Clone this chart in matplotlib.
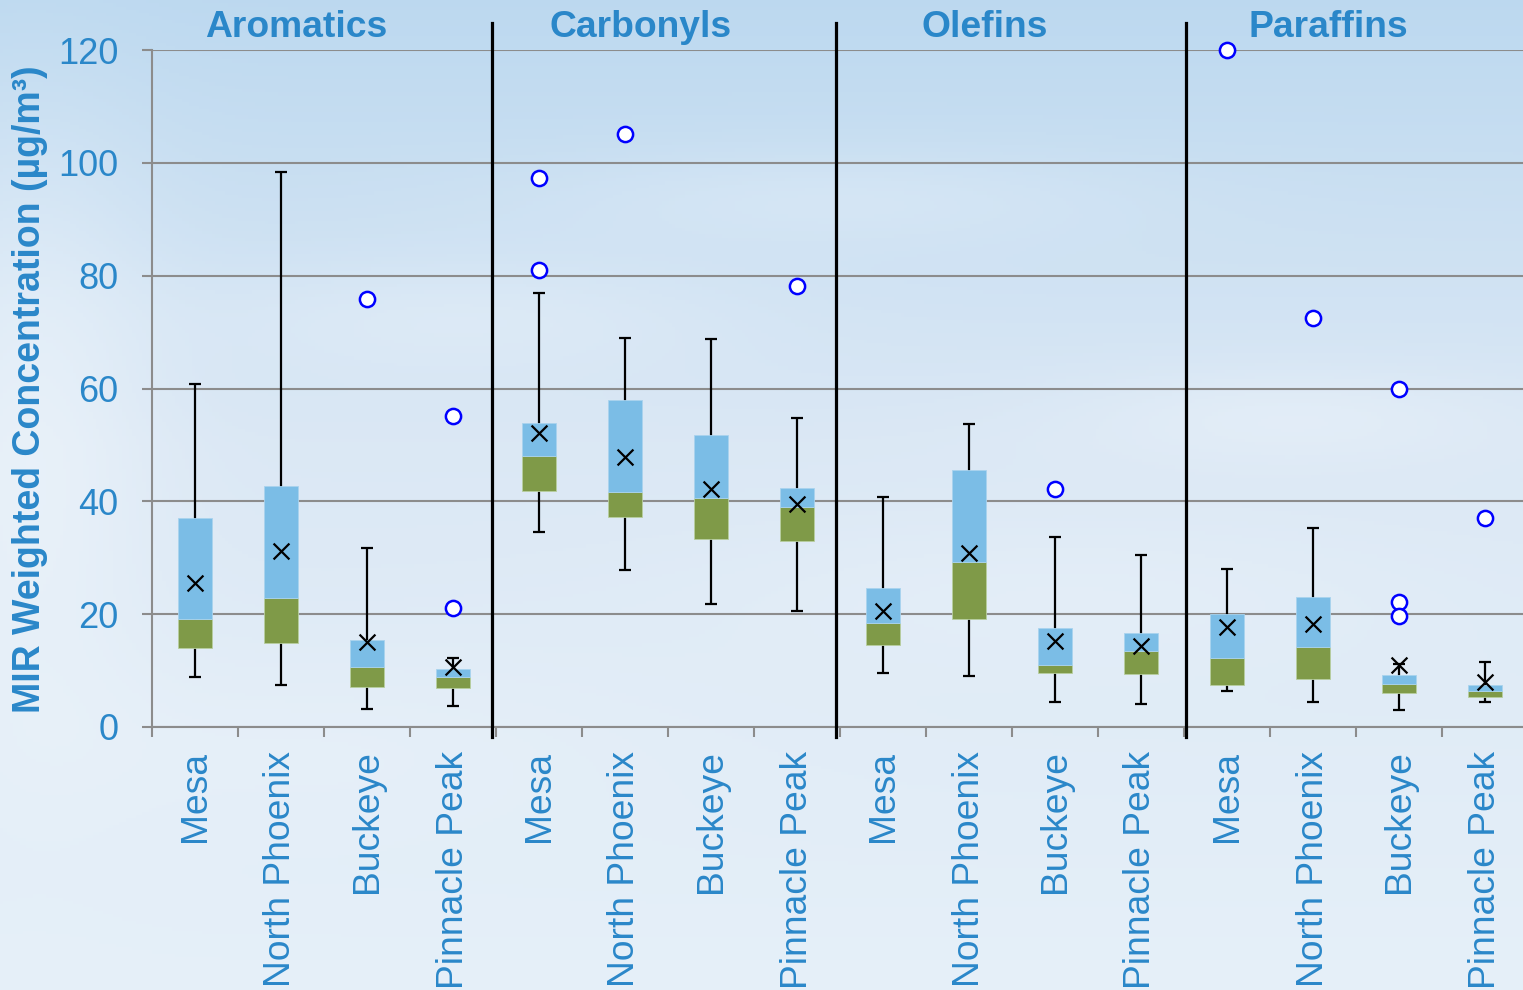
import numpy as np
import matplotlib
matplotlib.use("Agg")
import matplotlib.pyplot as plt
from matplotlib.transforms import blended_transform_factory

plt.rcParams["font.family"] = ["Liberation Sans", "DejaVu Sans"]

# ---- data -------------------------------------------------------------
groups = ["Aromatics", "Carbonyls", "Olefins", "Paraffins"]
sites = ["Mesa", "North Phoenix", "Buckeye", "Pinnacle Peak"]

# order inside each list: Mesa, North Phoenix, Buckeye, Pinnacle Peak
aromatics_whislo = [8.9, 7.4, 3.2, 3.7]
aromatics_q1 = [14.0, 14.9, 7.1, 6.9]
aromatics_med = [19.1, 22.9, 10.7, 8.9]
aromatics_q3 = [37.1, 42.8, 15.4, 10.3]
aromatics_whishi = [60.8, 98.4, 31.8, 12.2]
aromatics_mean = [25.6, 31.2, 15.1, 10.7]
aromatics_fliers = [[], [], [75.9], [55.1, 21.1]]

carbonyls_whislo = [34.6, 27.8, 21.8, 20.6]
carbonyls_q1 = [41.9, 37.2, 33.3, 32.9]
carbonyls_med = [48.0, 41.7, 40.6, 39.0]
carbonyls_q3 = [53.9, 57.9, 51.8, 42.3]
carbonyls_whishi = [76.9, 68.9, 68.8, 54.8]
carbonyls_mean = [52.2, 47.9, 42.2, 39.5]
carbonyls_fliers = [[97.3, 81.0], [105.1], [], [78.2]]

olefins_whislo = [9.6, 9.0, 4.4, 4.0]
olefins_q1 = [14.6, 19.1, 9.5, 9.4]
olefins_med = [18.5, 29.2, 11.0, 13.5]
olefins_q3 = [24.6, 45.6, 17.5, 16.7]
olefins_whishi = [40.7, 53.7, 33.7, 30.4]
olefins_mean = [20.6, 30.8, 15.3, 14.4]
olefins_fliers = [[], [], [42.1], []]

paraffins_whislo = [6.3, 4.4, 3.1, 4.4]
paraffins_q1 = [7.5, 8.5, 6.1, 5.4]
paraffins_med = [12.2, 14.2, 7.7, 6.4]
paraffins_q3 = [20.0, 23.1, 9.3, 7.4]
paraffins_whishi = [28.0, 35.3, 11.1, 11.6]
paraffins_mean = [17.7, 18.3, 11.0, 7.9]
paraffins_fliers = [[120.0], [72.5], [59.9, 22.1, 19.6], [37.0]]

y_ticks = [0, 20, 40, 60, 80, 100, 120]

# ---- assemble ---------------------------------------------------------
whislo = aromatics_whislo + carbonyls_whislo + olefins_whislo + paraffins_whislo
q1 = aromatics_q1 + carbonyls_q1 + olefins_q1 + paraffins_q1
med = aromatics_med + carbonyls_med + olefins_med + paraffins_med
q3 = aromatics_q3 + carbonyls_q3 + olefins_q3 + paraffins_q3
whishi = aromatics_whishi + carbonyls_whishi + olefins_whishi + paraffins_whishi
means = aromatics_mean + carbonyls_mean + olefins_mean + paraffins_mean
fliers = aromatics_fliers + carbonyls_fliers + olefins_fliers + paraffins_fliers
labels = sites * len(groups)
x = np.arange(len(labels))

TEXT_BLUE = "#2A87C9"
BOX_BLUE = "#7BBDE6"
BOX_GREEN = "#7F9A48"
GRID = "#8C8C8C"

W, H = 1523, 990
fig = plt.figure(figsize=(W / 100, H / 100), dpi=100)

# sky backdrop
bg = fig.add_axes([0, 0, 1, 1], zorder=-10)
bg.set_axis_off()
yy, xx = np.mgrid[0:1:300j, 0:1:460j]
top = np.array([0.74, 0.85, 0.94])
mid = np.array([0.86, 0.91, 0.96])
bot = np.array([0.90, 0.94, 0.975])
t = yy[..., None]
sky = np.where(t < 0.45, top + (mid - top) * (t / 0.45),
               mid + (bot - mid) * ((t - 0.45) / 0.55))
clouds = [  # (cx, cy, sx, sy, strength) in figure fractions, y from top
    (0.02, 0.45, 0.08, 0.30, 0.55),
    (0.30, 0.32, 0.18, 0.06, 0.30),
    (0.55, 0.20, 0.20, 0.05, 0.25),
    (0.85, 0.42, 0.15, 0.05, 0.35),
    (0.70, 0.60, 0.25, 0.08, 0.25),
    (0.20, 0.75, 0.25, 0.10, 0.25),
]
cover = np.zeros_like(xx)
for cx, cy, sx, sy, s in clouds:
    cover += s * np.exp(-(((xx - cx) / sx) ** 2 + ((yy - cy) / sy) ** 2))
cover = np.clip(cover, 0, 0.7)[..., None]
sky = sky + (np.array([0.95, 0.97, 0.99]) - sky) * cover
bg.imshow(sky, extent=[0, 1, 0, 1], aspect="auto", origin="upper")
bg.set_xlim(0, 1)
bg.set_ylim(0, 1)

# main axes
left_px, right_px, bottom_px, top_px = 152, 1528, 727, 50
ax = fig.add_axes([left_px / W, 1 - bottom_px / H,
                   (right_px - left_px) / W, (bottom_px - top_px) / H])
ax.set_facecolor("none")
ax.set_xlim(-0.5, len(labels) - 0.5)
ax.set_ylim(0, 120)

ax.set_yticks(y_ticks)
ax.yaxis.grid(True, color=GRID, linewidth=1.5)
ax.set_axisbelow(True)
for side in ("top", "right"):
    ax.spines[side].set_visible(False)
for side in ("left", "bottom"):
    ax.spines[side].set_color(GRID)
    ax.spines[side].set_linewidth(1.5)
ax.tick_params(axis="y", colors=GRID, width=1.5, length=7.2, pad=17,
               labelcolor=TEXT_BLUE, labelsize=26)

ax.set_xticks(x)
ax.set_xticklabels(labels, rotation=90, color=TEXT_BLUE, fontsize=26.8,
                   va="top", ha="center")
ax.set_xticks(np.arange(len(labels) + 1) - 0.5, minor=True)
ax.tick_params(axis="x", which="major", length=0, pad=17)
ax.tick_params(axis="x", which="minor", length=7.2, width=1.5, colors=GRID)

# whiskers
bw = 0.4
ax.vlines(x, whislo, whishi, color="black", linewidth=1.6, zorder=3)
ax.hlines(whislo, x - 0.07, x + 0.07, color="black", linewidth=1.6, zorder=3)
ax.hlines(whishi, x - 0.07, x + 0.07, color="black", linewidth=1.6, zorder=3)

# two-tone boxes: Q1 -> median in green, median -> Q3 in blue
q1a, meda, q3a = np.array(q1), np.array(med), np.array(q3)
ax.bar(x, meda - q1a, bottom=q1a, width=bw, color=BOX_GREEN, zorder=4,
       edgecolor="#B8CFA0", linewidth=0.6)
ax.bar(x, q3a - meda, bottom=meda, width=bw, color=BOX_BLUE, zorder=4,
       edgecolor="#A9D3EE", linewidth=0.6)

# means
ax.scatter(x, means, marker="x", s=130, color="black", linewidths=1.6,
           zorder=6)

# outliers
fx = [xi for xi, f in zip(x, fliers) for _ in f]
fy = [v for f in fliers for v in f]
ax.scatter(fx, fy, marker="o", s=120, facecolors="white", edgecolors="#0000FF",
           linewidths=1.8, zorder=6, clip_on=False)

# group separators and titles
trans = blended_transform_factory(ax.transData, ax.transAxes)
sep_x = [3.45, 7.45, 11.52]
for sx in sep_x:
    ax.plot([sx, sx], [-0.015, 1.04], color="black", linewidth=2.3,
            transform=trans, clip_on=False, zorder=5)

title_trans = blended_transform_factory(ax.transData, fig.transFigure)
for gi, g in enumerate(groups):
    cx = gi * 4 + 1.5 - 0.32
    ax.text(cx, 1 - 37 / H, g, transform=title_trans, ha="center",
            va="baseline", fontsize=26.8, fontweight="bold", color=TEXT_BLUE)

fig.text(30 / W, 1 - 389 / H, "MIR Weighted Concentration (µg/m³)",
         rotation=90, ha="center", va="center", fontsize=27,
         fontweight="bold", color=TEXT_BLUE)

fig.savefig("out.png", dpi=100)
